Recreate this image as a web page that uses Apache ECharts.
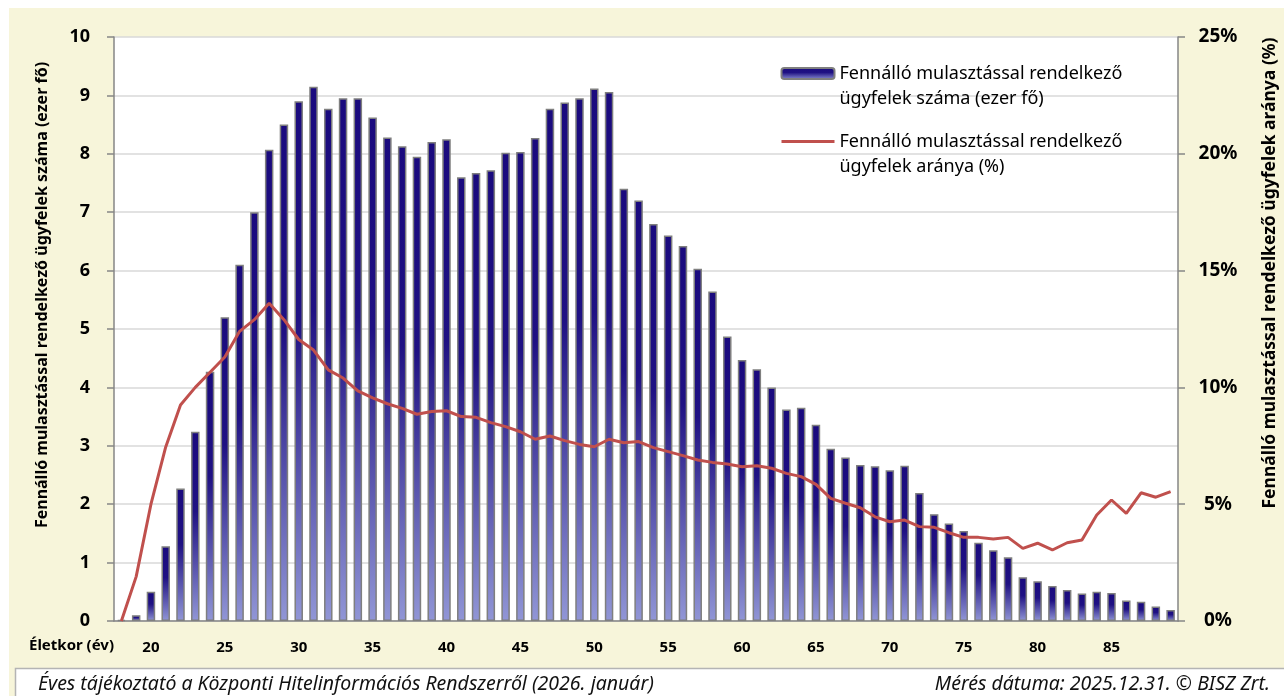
<!DOCTYPE html>
<html>
<head>
<meta charset="utf-8">
<script src="https://cdn.jsdelivr.net/npm/echarts@6/dist/echarts.min.js"></script>
<style>
  html, body { margin: 0; padding: 0; background: #fff; }
  #chart { width: 1284px; height: 696px; }
</style>
</head>
<body>
<div id="chart"></div>
<script>
// életkor (év) kategóriák: 18..89
const ages = [];
for (let a = 18; a <= 89; a++) ages.push(a);

// Fennálló mulasztással rendelkező ügyfelek száma (ezer fő)
const countValues = [
  0.02, 0.10, 0.50, 1.28, 2.27, 3.24, 4.27, 5.20, 6.10, 7.00,   // 18-27
  8.07, 8.50, 8.90, 9.15, 8.77, 8.95, 8.95, 8.62, 8.28, 8.13,   // 28-37
  7.95, 8.20, 8.25, 7.60, 7.67, 7.72, 8.02, 8.03, 8.27, 8.77,   // 38-47
  8.88, 8.95, 9.12, 9.06, 7.40, 7.20, 6.80, 6.60, 6.42, 6.03,   // 48-57
  5.64, 4.87, 4.47, 4.31, 4.00, 3.62, 3.65, 3.36, 2.95, 2.80,   // 58-67
  2.67, 2.65, 2.58, 2.66, 2.19, 1.83, 1.67, 1.54, 1.34, 1.21,   // 68-77
  1.09, 0.75, 0.68, 0.60, 0.53, 0.47, 0.50, 0.48, 0.35, 0.33,   // 78-87
  0.25, 0.19                                                    // 88-89
];

// Fennálló mulasztással rendelkező ügyfelek aránya (%)
const ratioValues = [
  0.0, 1.9, 5.0, 7.45, 9.25, 10.0, 10.65, 11.3, 12.4, 12.9,     // 18-27
  13.6, 12.9, 12.05, 11.6, 10.75, 10.4, 9.85, 9.55, 9.3, 9.1,   // 28-37
  8.85, 8.97, 9.0, 8.75, 8.72, 8.49, 8.32, 8.1, 7.78, 7.92,     // 38-47
  7.72, 7.56, 7.46, 7.78, 7.63, 7.68, 7.42, 7.25, 7.08, 6.89,   // 48-57
  6.79, 6.72, 6.6, 6.65, 6.54, 6.32, 6.18, 5.85, 5.25, 5.04,    // 58-67
  4.85, 4.46, 4.25, 4.32, 4.04, 4.01, 3.78, 3.58, 3.58, 3.51,   // 68-77
  3.58, 3.11, 3.33, 3.04, 3.35, 3.47, 4.54, 5.18, 4.61, 5.49,   // 78-87
  5.3, 5.54                                                     // 88-89
];

const nameCount = 'Fennálló mulasztással rendelkező\nügyfelek száma (ezer fő)';
const nameRatio = 'Fennálló mulasztással rendelkező\nügyfelek aránya (%)';

const FONT = '"Noto Sans", "Open Sans", sans-serif';
const axisGray = '#868686';
const lineRed = '#C0504D';

const barFill = new echarts.graphic.LinearGradient(0, 0, 0, 1, [
  { offset: 0, color: '#1A0A7E' },
  { offset: 0.42, color: '#1F1183' },
  { offset: 1, color: '#9196D6' }
]);

const myChart = echarts.init(document.getElementById('chart'));
const option = {
  backgroundColor: '#ffffff',
  animation: false,
  textStyle: { fontFamily: FONT },
  graphic: [
    // sárga háttérpanel
    { type: 'rect', z: -100, shape: { x: 9, y: 8, width: 1275, height: 688 },
      style: { fill: '#F7F5DA' } },
    // lábléc doboz
    { type: 'rect', z: -90, shape: { x: 15, y: 668, width: 1269, height: 28 },
      style: { fill: '#ffffff' } },
    { type: 'polyline', z: -80, shape: { points: [[15.5, 696], [15.5, 668.5], [1284, 668.5]] },
      style: { stroke: '#B4B4B4', lineWidth: 1.5, fill: null } },
    { type: 'text', z: 100, x: 38, y: 684,
      style: { text: 'Éves tájékoztató a Központi Hitelinformációs Rendszerről (2026. január)',
        fontFamily: FONT, fontStyle: 'italic', fontSize: 19.5, fill: '#111',
        verticalAlign: 'middle' } },
    { type: 'text', z: 100, x: 1270, y: 684,
      style: { text: 'Mérés dátuma: 2025.12.31. © BISZ Zrt.',
        fontFamily: FONT, fontStyle: 'italic', fontSize: 19.5, fill: '#111',
        align: 'right', verticalAlign: 'middle' } },
    // tengelycímek
    { type: 'text', z: 100, x: 42, y: 295, rotation: Math.PI / 2,
      style: { text: 'Fennálló mulasztással rendelkező ügyfelek száma (ezer fő)',
        fontFamily: FONT, fontWeight: 'bold', fontSize: 16, fill: '#000',
        align: 'center', verticalAlign: 'middle' } },
    { type: 'text', z: 100, x: 1270, y: 273, rotation: Math.PI / 2,
      style: { text: 'Fennálló mulasztással rendelkező ügyfelek aránya (%)',
        fontFamily: FONT, fontWeight: 'bold', fontSize: 17.5, fill: '#000',
        align: 'center', verticalAlign: 'middle' } },
    { type: 'text', z: 100, x: 29, y: 646,
      style: { text: 'Életkor (év)', fontFamily: FONT, fontWeight: 'bold',
        fontSize: 15, fill: '#000', verticalAlign: 'middle' } }
  ],
  grid: {
    left: 114, right: 106, top: 37, bottom: 75,
    show: true, backgroundColor: '#ffffff', borderWidth: 0
  },
  legend: {
    orient: 'vertical',
    left: 780,
    top: 36,
    padding: 0,
    itemWidth: 53,
    itemHeight: 11,
    itemGap: -7,
    data: [
      { name: nameCount },
      { name: nameRatio, itemStyle: { opacity: 0 }, lineStyle: { width: 3, color: lineRed } }
    ],
    // üres első sor: az ikon az első szövegsorhoz igazodik
    formatter: name => '\n' + name,
    textStyle: { fontFamily: FONT, fontSize: 18, color: '#000', lineHeight: 25 }
  },
  xAxis: {
    type: 'category',
    data: ages,
    axisLine: { lineStyle: { color: axisGray, width: 1.5 } },
    axisTick: { interval: 0, length: 5, lineStyle: { color: axisGray, width: 1.5 } },
    axisLabel: {
      interval: (idx, val) => Number(val) % 5 === 0,
      margin: 19,
      fontSize: 15, fontWeight: 'bold', color: '#000', fontFamily: FONT
    },
    splitLine: { show: false }
  },
  yAxis: [
    {
      type: 'value', min: 0, max: 10, interval: 1,
      axisLine: { show: true, lineStyle: { color: axisGray, width: 1.5 } },
      axisTick: { show: true, length: 7, lineStyle: { color: axisGray, width: 1.5 } },
      axisLabel: { margin: 24, fontSize: 18, fontWeight: 'bold', color: '#000', fontFamily: FONT },
      splitLine: { lineStyle: { color: '#D9D9D9', width: 1.5 } }
    },
    {
      type: 'value', min: 0, max: 25, interval: 5,
      axisLine: { show: true, lineStyle: { color: axisGray, width: 1.5 } },
      axisTick: { show: true, length: 7, lineStyle: { color: axisGray, width: 1.5 } },
      axisLabel: { margin: 40, align: 'center', formatter: '{value}%',
        fontSize: 19, fontWeight: 'bold', color: '#000', fontFamily: FONT },
      splitLine: { show: false }
    }
  ],
  series: [
    {
      name: nameCount,
      type: 'bar',
      data: countValues,
      barWidth: 8.5,
      itemStyle: { color: barFill, borderColor: '#7F7F7F', borderWidth: 1.5 },
      z: 2
    },
    {
      name: nameRatio,
      type: 'line',
      yAxisIndex: 1,
      data: ratioValues,
      symbol: 'none',
      lineStyle: { color: lineRed, width: 3 },
      itemStyle: { color: lineRed },
      z: 3
    }
  ]
};
myChart.setOption(option);
window.addEventListener('resize', function () {
  myChart.resize();
});
</script>
</body>
</html>
